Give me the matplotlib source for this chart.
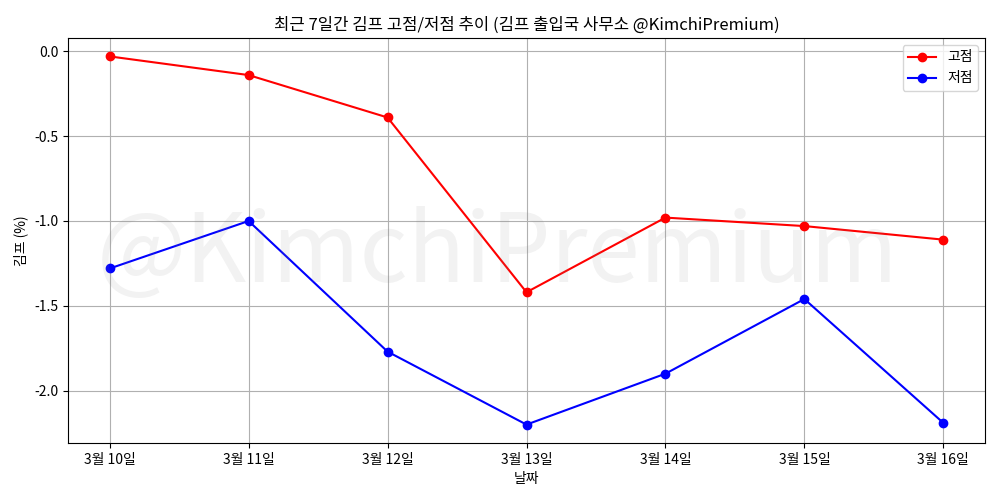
import matplotlib
matplotlib.use("Agg")
import matplotlib.pyplot as plt

plt.rcParams['font.family'] = ['Noto Sans CJK KR', 'DejaVu Sans']
plt.rcParams['axes.unicode_minus'] = False

dates = ["3월 10일", "3월 11일", "3월 12일", "3월 13일", "3월 14일", "3월 15일", "3월 16일"]
high = [-0.03, -0.14, -0.39, -1.42, -0.98, -1.03, -1.11]
low = [-1.28, -1.00, -1.77, -2.20, -1.90, -1.46, -2.19]

fig, ax = plt.subplots(figsize=(10, 5), dpi=100)
ax.plot(dates, high, 'o-', color='red', label='고점')
ax.plot(dates, low, 'o-', color='blue', label='저점')
ax.set_title("최근 7일간 김프 고점/저점 추이 (김프 출입국 사무소 @KimchiPremium)")
ax.set_xlabel("날짜")
ax.set_ylabel("김프 (%)")
ax.grid(True)
ax.legend(loc='upper right')
ax.text(0.468, 0.465, "@KimchiPremium", transform=ax.transAxes, fontsize=68,
        fontweight='light', color='gray', alpha=0.1, ha='center', va='center')
fig.subplots_adjust(left=0.068, right=0.985, top=0.924, bottom=0.114)
fig.savefig("out.png")
